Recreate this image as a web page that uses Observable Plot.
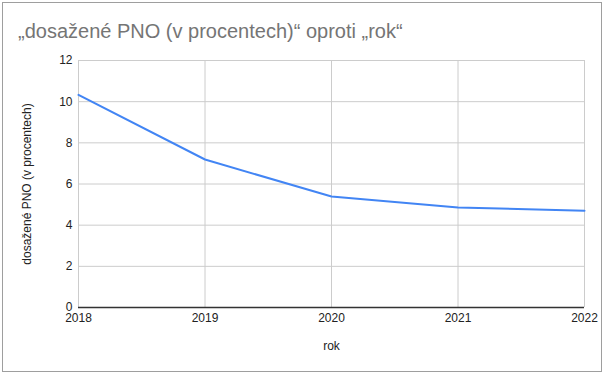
<!DOCTYPE html>
<html>
<head>
<meta charset="utf-8">
<script src="https://cdn.jsdelivr.net/npm/d3@7"></script>
<script src="https://cdn.jsdelivr.net/npm/@observablehq/plot@0.6"></script>
<style>
  html, body { margin: 0; padding: 0; background: #fff; }
  #wrap { position: relative; width: 606px; height: 378px; overflow: hidden; font-family: Arial, "Liberation Sans", sans-serif; }
  #box { position: absolute; left: 2px; top: 2px; width: 600px; height: 370px; border: 1px solid #9e9e9e; box-sizing: border-box; }
  #title { position: absolute; left: 18px; top: 20px; font-size: 20px; color: #757575; white-space: nowrap; }
  #chart { position: absolute; left: 0; top: 0; }
</style>
</head>
<body>
<div id="wrap">
  <div id="box"></div>
  <div id="chart"></div>
  <div id="title">„dosažené PNO (v procentech)“ oproti „rok“</div>
</div>
<script>
const years = [2018, 2019, 2020, 2021, 2022];
const values = [10.33, 7.19, 5.39, 4.86, 4.70];
const yTicks = [0, 2, 4, 6, 8, 10, 12];
const xLabel = "rok";
const yLabel = "dosažené PNO (v procentech)";

const data = years.map((y, i) => ({year: y, value: values[i]}));

const chart = Plot.plot({
  width: 606,
  height: 378,
  marginTop: 60,
  marginBottom: 71,
  marginLeft: 78,
  marginRight: 22,
  style: {fontFamily: 'Arial, "Liberation Sans", sans-serif', fontSize: "12px", color: "#222", background: "transparent"},
  x: {domain: [2018, 2022], ticks: years, tickFormat: d => String(d)},
  y: {domain: [0, 12], ticks: yTicks},
  marks: [
    Plot.gridX(years, {stroke: "#cccccc", strokeOpacity: 1}),
    Plot.gridY(yTicks, {stroke: "#cccccc", strokeOpacity: 1}),
    Plot.ruleY([0], {stroke: "#333", strokeWidth: 1.5}),
    Plot.axisX(years, {tickSize: 0, tickPadding: 6, tickFormat: d => String(d), label: xLabel, labelAnchor: "center", labelArrow: "none", labelOffset: 42, fill: "#222", fontSize: 12}),
    Plot.axisY(yTicks, {tickSize: 0, tickPadding: 6, tickFormat: d => String(d), label: yLabel, labelAnchor: "center", labelArrow: "none", labelOffset: 56, fill: "#222", fontSize: 12}),
    Plot.line(data, {x: "year", y: "value", stroke: "#4285F4", strokeWidth: 2})
  ]
});
document.getElementById("chart").appendChild(chart);
</script>
</body>
</html>
